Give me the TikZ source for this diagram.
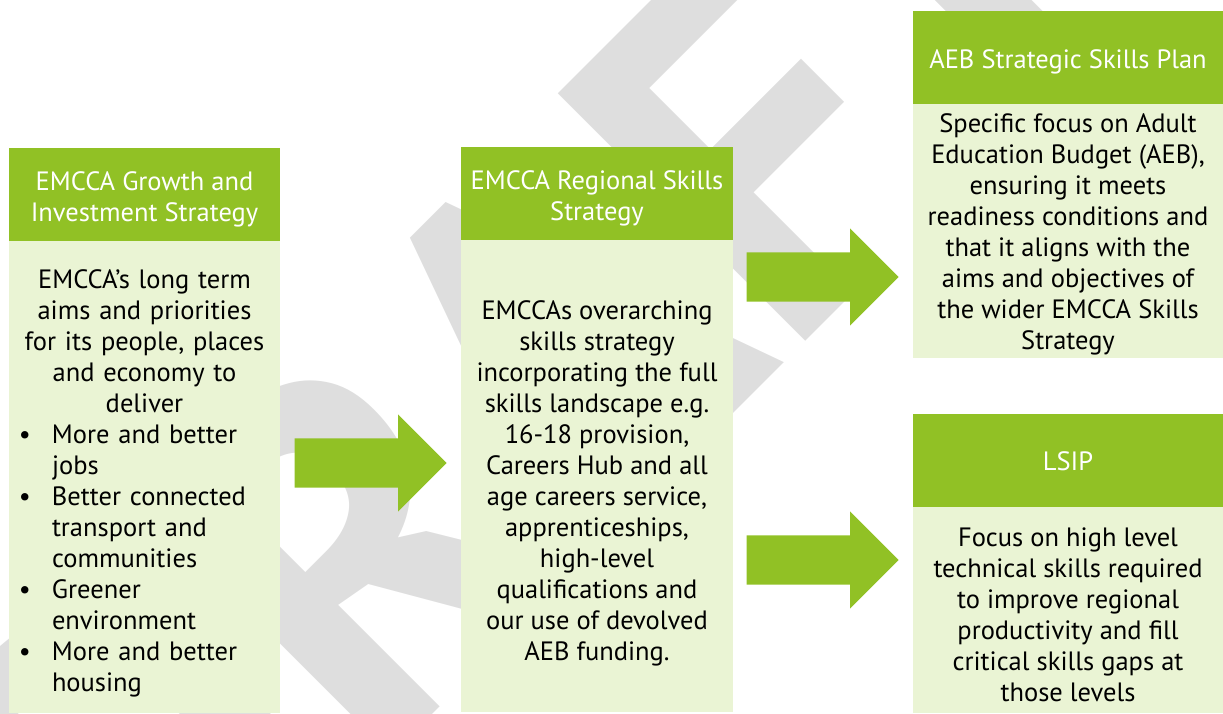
\documentclass[tikz,border=0pt]{standalone}
\usepackage{fontspec}
\setmainfont{PT Sans}
\usetikzlibrary{positioning,shapes.arrows}
\definecolor{headgreen}{RGB}{145,193,37}
\definecolor{bodygreen}{RGB}{234,244,212}
\definecolor{wmgrey}{RGB}{222,222,222}
\tikzset{
  headbox/.style={rectangle, fill=headgreen, inner sep=0pt, outer sep=0pt, minimum height=93pt, anchor=north west},
  bodybox/.style={rectangle, fill=bodygreen, inner sep=0pt, outer sep=0pt},
  headtext/.style={text=white, align=center, inner sep=0pt},
  bodytext/.style={text=black, align=center, inner sep=0pt},
  blockarrow/.style={single arrow, fill=headgreen, single arrow head extend=24pt, inner xsep=0pt, inner ysep=24.5pt, text height=0pt, text depth=0pt, minimum height=152pt, anchor=tip}
}

\begin{document}
\begin{tikzpicture}[x=1pt,y=-1pt,node distance=0pt,font=\fontsize{26.5}{31}\selectfont]
            \useasboundingbox (0,0) rectangle (1223,713);

            % Watermark
            \begin{scope}
                \clip (0,0) rectangle (1223,713);
                \node[rotate=45, text=wmgrey, font=\fontsize{500}{500}\selectfont\bfseries] (draftmark) at (530,370) {DRAFT};
            \end{scope}

            % Growth and Investment Strategy
            \node[headbox, minimum width=271pt] (growthhead) at (9,148) {};
            \node[bodybox, below=of growthhead, minimum width=271pt, minimum height=472pt] (growthbody) {};
            \node[headtext, yshift=-5pt] (growthtitle) at (growthhead) {EMCCA Growth and\\ Investment Strategy};
            \node[bodytext, yshift=-8pt, text width=265pt] (growthtext) at (growthbody) {
                EMCCA’s long term\\ aims and priorities\\ for its people, places\\ and economy to\\ deliver\\
                \makebox[265pt][l]{\hspace*{7pt}\begin{tabular}[t]{@{}p{33pt}@{}l@{}}
                  \textbullet & More and better\\ & jobs\\
                  \textbullet & Better connected\\ & transport and\\ & communities\\
                  \textbullet & Greener\\ & environment\\
                  \textbullet & More and better\\ & housing
                \end{tabular}}
            };

            % Regional Skills Strategy
            \node[headbox, minimum width=272pt] (regionhead) at (461,147) {};
            \node[bodybox, below=of regionhead, minimum width=272pt, minimum height=472pt] (regionbody) {};
            \node[headtext, yshift=-5pt] (regiontitle) at (regionhead) {EMCCA Regional Skills\\ Strategy};
            \node[bodytext, yshift=-7pt] (regiontext) at (regionbody) {
                EMCCAs overarching\\ skills strategy\\ incorporating the full\\ skills landscape e.g.\\ 16-18 provision,\\ Careers Hub and all\\ age careers service,\\ apprenticeships,\\ high-level\\ qualifications and\\ our use of devolved\\ AEB funding.
            };

            % AEB Strategic Skills Plan
            \node[headbox, minimum width=310pt] (aebhead) at (913,11) {};
            \node[bodybox, below=of aebhead, minimum width=310pt, minimum height=254pt] (aebbody) {};
            \node[headtext, yshift=-4pt] (aebtitle) at (aebhead) {AEB Strategic Skills Plan};
            \node[bodytext, yshift=-3pt] (aebtext) at (aebbody) {
                Specific focus on Adult\\ Education Budget (AEB),\\ ensuring it meets\\ readiness conditions and\\ that it aligns with the\\ aims and objectives of\\ the wider EMCCA Skills\\ Strategy
            };

            % LSIP
            \node[headbox, minimum width=310pt] (lsiphead) at (913,414) {};
            \node[bodybox, below=of lsiphead, minimum width=310pt, minimum height=206pt] (lsipbody) {};
            \node[headtext, yshift=-1pt] (lsiptitle) at (lsiphead) {LSIP};
            \node[bodytext, yshift=-5pt] (lsiptext) at (lsipbody) {
                Focus on high level\\ technical skills required\\ to improve regional\\ productivity and fill\\ critical skills gaps at\\ those levels
            };

            % Arrows
            \node[blockarrow] (growtharrow) at (447,463) {};
            \node[blockarrow] (aebarrow) at (899,277) {};
            \node[blockarrow] (lsiparrow) at (899,560) {};
        \end{tikzpicture}
\end{document}
